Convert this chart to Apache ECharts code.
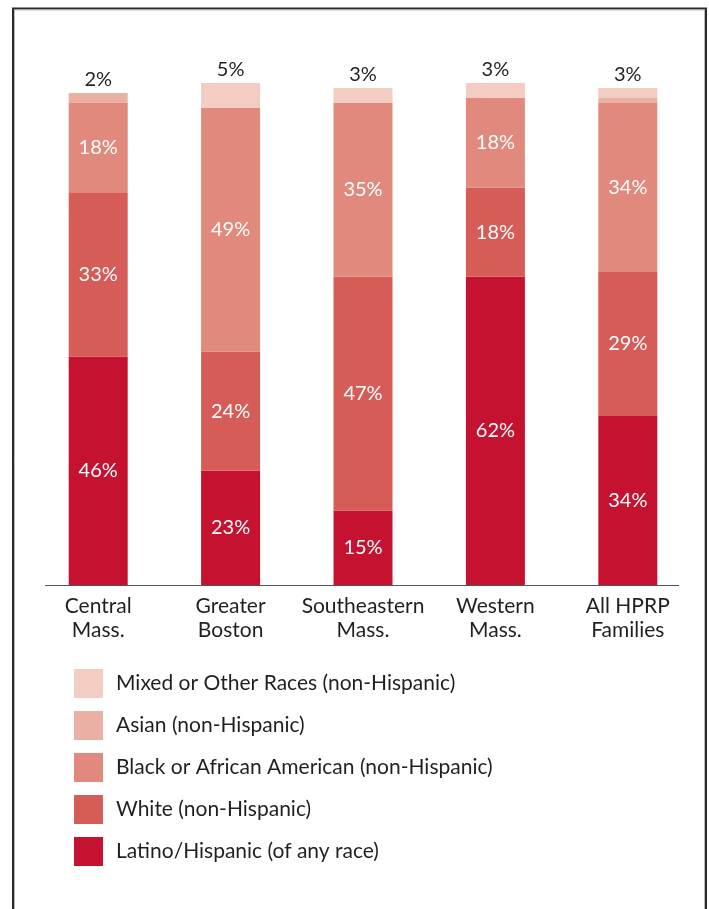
<!DOCTYPE html>
<html>
<head>
<meta charset="utf-8">
<script src="https://cdn.jsdelivr.net/npm/echarts@6/dist/echarts.min.js"></script>
<style>
  html, body { margin: 0; padding: 0; background: #ffffff; }
  #chart { width: 709px; height: 909px; }
</style>
</head>
<body>
<div id="chart"></div>
<script>
// Regions (two-line axis labels)
const regions = ['Central\nMass.', 'Greater\nBoston', 'Southeastern\nMass.', 'Western\nMass.', 'All HPRP\nFamilies'];

// Share of families by race/ethnicity, percent
const latino = [46, 23, 15, 62, 34];
const white  = [33, 24, 47, 18, 29];
const black  = [18, 49, 35, 18, 34];
const asian  = [2, 0, 0, 0, 1];
const mixed  = [0, 5, 3, 3, 2];

const seriesNames = [
  'Latino/Hispanic (of any race)',
  'White (non-Hispanic)',
  'Black or African American (non-Hispanic)',
  'Asian (non-Hispanic)',
  'Mixed or Other Races (non-Hispanic)'
];
const colors = ['#c41230', '#d65c57', '#e0897c', '#ebb0a4', '#f3cdc2'];

const FONT = 'Lato, "Open Sans", sans-serif';
const chart = echarts.init(document.getElementById('chart'), null, { renderer: 'canvas' });

function inner(name, data, color) {
  return {
    name: name,
    type: 'bar',
    stack: 'total',
    barWidth: 59,
    data: data,
    itemStyle: { color: color },
    label: {
      show: true,
      position: 'inside',
      color: '#ffffff',
      fontFamily: FONT,
      fontSize: 20,
      formatter: p => p.value + '%'
    }
  };
}

const series = [
  inner(seriesNames[0], latino, colors[0]),
  inner(seriesNames[1], white, colors[1]),
  inner(seriesNames[2], black, colors[2]),
  {
    name: seriesNames[3], type: 'bar', stack: 'total', barWidth: 59,
    data: asian, itemStyle: { color: colors[3] }
  },
  {
    name: seriesNames[4], type: 'bar', stack: 'total', barWidth: 59,
    data: mixed, itemStyle: { color: colors[4] },
    label: {
      show: true,
      position: 'top',
      distance: 3,
      color: '#231f20',
      fontFamily: FONT,
      fontSize: 20,
      formatter: p => (asian[p.dataIndex] + mixed[p.dataIndex]) + '%'
    }
  }
];

chart.setOption({
  animation: false,
  backgroundColor: '#ffffff',
  grid: { left: 32, right: 15, top: 88, height: 497 },
  xAxis: {
    type: 'category',
    data: regions,
    axisLine: { show: false },
    axisTick: { show: false },
    axisLabel: {
      color: '#231f20',
      fontFamily: FONT,
      fontSize: 21,
      lineHeight: 24,
      margin: 9,
      interval: 0
    }
  },
  yAxis: {
    type: 'value',
    min: 0,
    max: 100,
    show: false
  },
  legend: {
    orient: 'vertical',
    left: 69,
    top: 664,
    itemWidth: 29,
    itemHeight: 29,
    itemGap: 13,
    icon: 'rect',
    data: seriesNames.slice().reverse(),
    textStyle: { color: '#231f20', fontFamily: FONT, fontSize: 21, padding: [0, 0, 0, 8] },
    selectedMode: false
  },
  series: series.map(s => Object.assign({ clip: false }, s)),
  graphic: [
    // baseline under the bars
    { type: 'line', shape: { x1: 45, y1: 585.5, x2: 679, y2: 585.5 },
      style: { stroke: '#555555', lineWidth: 1.2 }, silent: true },
    // frame around the figure (open at the bottom)
    { type: 'polyline', shape: { points: [[13, 909], [13, 8.5], [706, 8.5], [706, 909]] },
      style: { stroke: '#2a2a2a', lineWidth: 2, fill: null }, silent: true },
    { type: 'polyline', shape: { points: [[14.5, 909], [14.5, 10], [704.5, 10], [704.5, 909]] },
      style: { stroke: '#bbbbbb', lineWidth: 1, fill: null }, silent: true }
  ]
});
</script>
</body>
</html>
